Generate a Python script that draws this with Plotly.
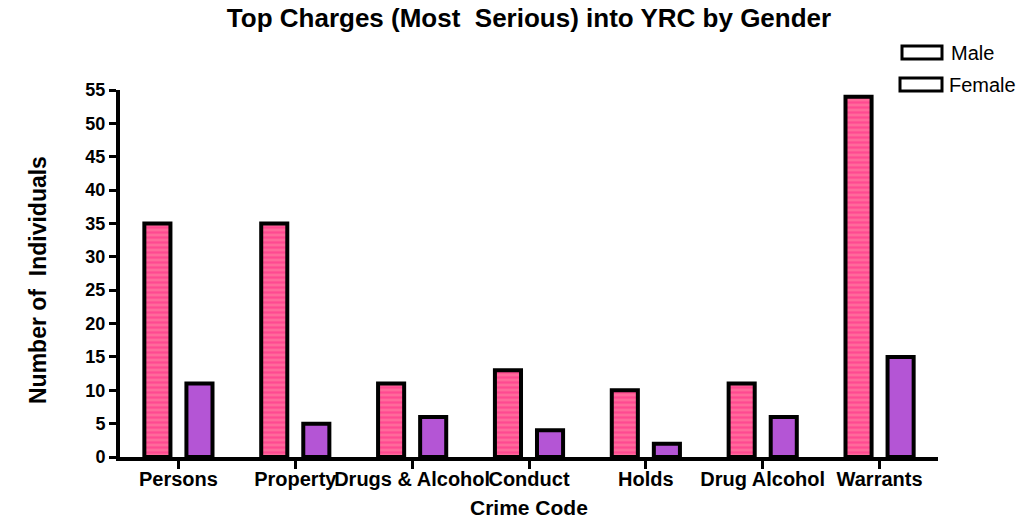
import plotly.graph_objects as go

categories = ["Persons", "Property", "Drugs & Alcohol", "Conduct", "Holds", "Drug Alcohol", "Warrants"]
male = [35, 35, 11, 13, 10, 11, 54]
female = [11, 5, 6, 4, 2, 6, 15]
series_names = ["Male", "Female"]
y_ticks = list(range(0, 56, 5))

FONT = "Liberation Sans, Arial, sans-serif"

fig = go.Figure()
fig.add_trace(go.Bar(
    x=categories, y=male, name=series_names[0], showlegend=False,
    marker=dict(
        color="#FF6A9B",
        line=dict(color="black", width=4),
        pattern=dict(shape="-", size=5, solidity=0.45, fgcolor="#FF2888", bgcolor="#FF6A9B", fillmode="overlay"),
    ),
))
fig.add_trace(go.Bar(
    x=categories, y=female, name=series_names[1], showlegend=False,
    marker=dict(color="#B455D5", line=dict(color="black", width=4)),
))

W, H = 1023, 524
L, R, T, B = 120, 85, 90, 67
pw, ph = W - L - R, H - T - B


def px(xp):
    return (xp - L) / pw


def py(yp):
    return (H - B - yp) / ph


shapes = []
annotations = []
legend_boxes = [(902, 942, 46, 59, 949, 52.5), (900, 942, 78, 91, 947, 84.5)]
for name, (x0, x1, y0, y1, tx, ty) in zip(series_names, legend_boxes):
    shapes.append(dict(type="rect", xref="paper", yref="paper",
                       x0=px(x0), x1=px(x1), y0=py(y1), y1=py(y0),
                       line=dict(color="black", width=3), fillcolor="white"))
    annotations.append(dict(text=name, xref="paper", yref="paper", x=px(tx), y=py(ty),
                            xanchor="left", yanchor="middle", showarrow=False,
                            font=dict(family=FONT, size=20, color="black")))

annotations.append(dict(text="<b>Number of  Individuals</b>", xref="paper", yref="paper",
                        x=px(38), y=py(280), textangle=-90, xanchor="center", yanchor="middle",
                        showarrow=False, font=dict(family=FONT, size=23, color="black")))
annotations.append(dict(text="<b>Crime Code</b>", xref="paper", yref="paper",
                        x=px(529), y=py(507), xanchor="center", yanchor="middle",
                        showarrow=False, font=dict(family=FONT, size=21, color="black")))

fig.update_layout(
    width=W, height=H,
    margin=dict(l=L, r=R, t=T, b=B),
    paper_bgcolor="white", plot_bgcolor="white",
    barmode="group", bargap=0.28, bargroupgap=0.38,
    title=dict(text="<b>Top Charges (Most \u00a0Serious) into YRC by Gender</b>",
               x=0.5, xref="paper", xanchor="center",
               y=(H - 18) / H, yref="container", yanchor="middle",
               font=dict(family=FONT, size=26, color="black")),
    shapes=shapes,
    annotations=annotations,
    showlegend=False,
)
fig.update_xaxes(
    type="category", range=[-0.5, len(categories) - 0.5],
    showline=True, linecolor="black", linewidth=4,
    ticks="outside", ticklen=8, tickwidth=3, tickcolor="black",
    tickangle=0, showgrid=False, zeroline=False, ticklabelstandoff=-7,
    tickfont=dict(family=FONT, size=20, color="black", weight="bold"),
)
fig.update_yaxes(
    range=[0, 55], tickvals=y_ticks, ticktext=[str(v) for v in y_ticks],
    showline=True, linecolor="black", linewidth=4,
    ticks="outside", ticklen=7, tickwidth=3, tickcolor="black",
    showgrid=False, zeroline=False,
    tickfont=dict(family=FONT, size=18, color="black", weight="bold"),
)

fig.write_html("out.html", config={"displayModeBar": False},
               post_script="document.body.style.margin='0';document.body.style.overflow='hidden';")
